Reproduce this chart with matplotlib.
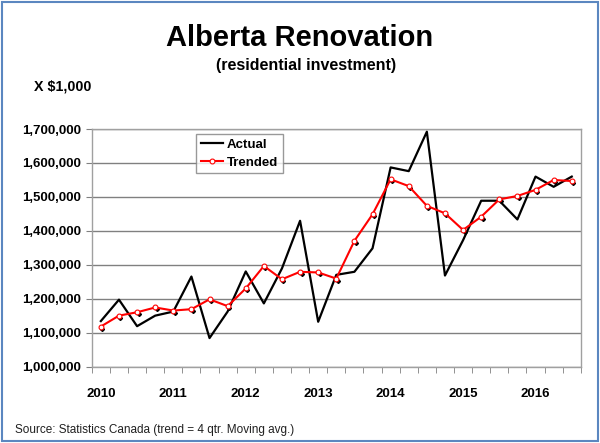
import numpy as np
from matplotlib import pyplot as plt
from matplotlib.ticker import FuncFormatter, MultipleLocator
import matplotlib.transforms as mtransforms

plt.rcParams["font.family"] = ["Liberation Sans", "DejaVu Sans"]

# Données trimestrielles 2010 T1 -> 2016 T3 (x 1 000 $)
quarters = list(range(27))
year_labels = ["2010", "2011", "2012", "2013", "2014", "2015", "2016"]

actual = [1135000, 1198000, 1120000, 1151000, 1163000, 1266000, 1085000,
          1163000, 1281000, 1187000, 1290000, 1430000, 1133000, 1271000,
          1280000, 1349000, 1587000, 1576000, 1692000, 1269000, 1373000,
          1489000, 1489000, 1434000, 1560000, 1530000, 1560000]

trended = [1119000, 1151000, 1161000, 1175000, 1166000, 1170000, 1199000,
           1179000, 1231000, 1297000, 1258000, 1280000, 1278000, 1260000,
           1371000, 1449000, 1552000, 1532000, 1474000, 1452000, 1403000,
           1442000, 1493000, 1503000, 1521000, 1550000, 1547000]

fig = plt.figure(figsize=(6.0, 4.43), dpi=100)
fig.patches.append(plt.Rectangle((0.004, 0.005), 0.992, 0.99, transform=fig.transFigure,
                                 fill=False, edgecolor="#5b87c0", linewidth=1.5))

ax = fig.add_axes([0.153, 0.1716, 0.815, 0.5372])

ax.plot(quarters, actual, color="black", linewidth=1.6, label="Actual", zorder=3)

# petits points noirs décalés sous les marqueurs de la tendance
decalage = mtransforms.ScaledTranslation(1.5 / 100, -2.0 / 100, fig.dpi_scale_trans)
ax.plot(quarters, trended, linestyle="none", marker="D", markersize=2, color="black",
        transform=ax.transData + decalage, zorder=4)
ax.plot(quarters, trended, color="red", linewidth=1.5, marker="o", markersize=3.5,
        markerfacecolor="white", markeredgecolor="red", markeredgewidth=0.8,
        label="Trended", zorder=5)

ax.set_xlim(-0.5, 26.5)
ax.set_ylim(1000000, 1700000)

ax.yaxis.set_major_locator(MultipleLocator(100000))
ax.yaxis.set_major_formatter(FuncFormatter(lambda v, p: f"{int(v):,}"))
ax.set_xticks(range(0, 27, 4))
ax.set_xticklabels(year_labels)
ax.set_xticks(np.arange(-0.5, 27, 1), minor=True)
ax.tick_params(axis="x", which="major", length=0, pad=15, labelsize=9.5)
ax.tick_params(axis="x", which="minor", length=4, color="#808080", direction="out")
ax.tick_params(axis="y", length=4.5, color="#808080", direction="out", labelsize=9.5, pad=3.5)
for lbl in ax.get_xticklabels() + ax.get_yticklabels():
    lbl.set_fontweight("bold")

ax.grid(True, axis="y", color="#808080", linewidth=1.0)
ax.set_axisbelow(True)
for spine in ax.spines.values():
    spine.set_color("#a0a0a0")
    spine.set_linewidth(1.0)

leg = ax.legend(loc="upper left", bbox_to_anchor=(0.213, 0.98), fontsize=9.5,
                frameon=True, fancybox=False, edgecolor="#808080", handlelength=1.7,
                handletextpad=0.3, borderpad=0.35, labelspacing=0.45, borderaxespad=0)
for txt in leg.get_texts():
    txt.set_fontweight("bold")

fig.text(0.5, 0.915, "Alberta Renovation", ha="center", va="center",
         fontsize=21, fontweight="bold")
fig.text(0.51, 0.852, "(residential investment)", ha="center", va="center",
         fontsize=11.5, fontweight="bold")
fig.text(0.056, 0.804, "X $1,000", ha="left", va="center", fontsize=10.3, fontweight="bold")
fig.text(0.025, 0.03, "Source: Statistics Canada (trend = 4 qtr. Moving avg.)",
         ha="left", va="center", fontsize=8.5, color="#202020")

fig.savefig("out.png", dpi=100)
